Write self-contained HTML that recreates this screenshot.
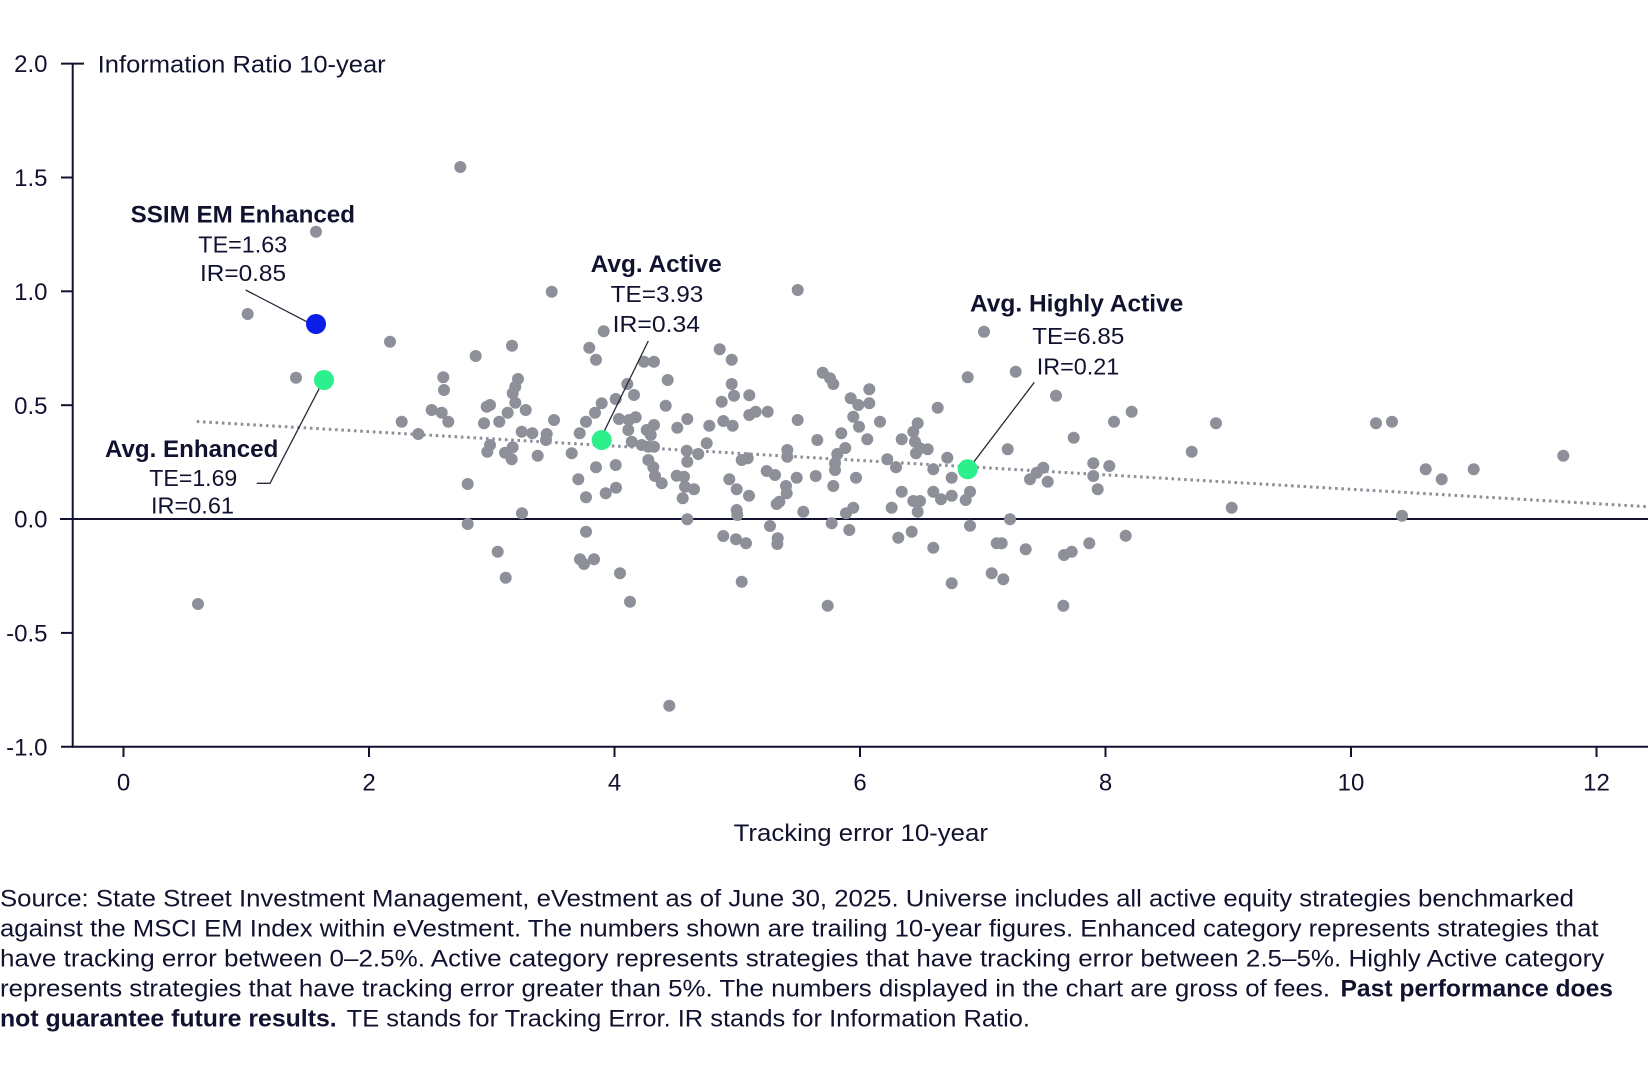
<!DOCTYPE html>
<html>
<head>
<meta charset="utf-8">
<style>
html,body{margin:0;padding:0;background:#fff}
body{width:1648px;height:1080px;overflow:hidden}
svg{display:block}
text{font-family:"Liberation Sans",Arial,sans-serif;fill:#11122f}
.b{font-weight:bold}
</style>
</head>
<body>
<svg width="1648" height="1080" viewBox="0 0 1648 1080" xmlns="http://www.w3.org/2000/svg">
<rect width="1648" height="1080" fill="#fff"/>
<g stroke="#11122f" stroke-width="2" fill="none">
<line x1="72.7" y1="63.6" x2="72.7" y2="747.7"/>
<line x1="61" y1="746.7" x2="1648" y2="746.7"/>
<line x1="60" y1="519" x2="1648" y2="519"/>
<line x1="61" y1="63.6" x2="84" y2="63.6"/>
<line x1="61" y1="177.5" x2="72.7" y2="177.5"/>
<line x1="61" y1="291.3" x2="72.7" y2="291.3"/>
<line x1="61" y1="405.2" x2="72.7" y2="405.2"/>
<line x1="61" y1="632.9" x2="72.7" y2="632.9"/>
<line x1="123.5" y1="746.7" x2="123.5" y2="757"/>
<line x1="369" y1="746.7" x2="369" y2="757"/>
<line x1="614.5" y1="746.7" x2="614.5" y2="757"/>
<line x1="860" y1="746.7" x2="860" y2="757"/>
<line x1="1105.5" y1="746.7" x2="1105.5" y2="757"/>
<line x1="1351" y1="746.7" x2="1351" y2="757"/>
<line x1="1596.5" y1="746.7" x2="1596.5" y2="757"/>
</g>
<g font-size="24" text-anchor="end">
<text x="47.5" y="72.2">2.0</text>
<text x="47.5" y="186.1">1.5</text>
<text x="47.5" y="299.9">1.0</text>
<text x="47.5" y="413.8">0.5</text>
<text x="47.5" y="527.6">0.0</text>
<text x="47.5" y="641.5">-0.5</text>
<text x="47.5" y="755.3">-1.0</text>
</g>
<g font-size="24" text-anchor="middle">
<text x="123.5" y="790.5">0</text>
<text x="369" y="790.5">2</text>
<text x="614.5" y="790.5">4</text>
<text x="860" y="790.5">6</text>
<text x="1105.5" y="790.5">8</text>
<text x="1351" y="790.5">10</text>
<text x="1596.5" y="790.5">12</text>
</g>
<text x="97.7" y="72.5" font-size="24" textLength="288" lengthAdjust="spacingAndGlyphs">Information Ratio 10-year</text>
<text x="733.6" y="841" font-size="24" textLength="254.4" lengthAdjust="spacingAndGlyphs">Tracking error 10-year</text>
<line x1="196.7" y1="421.5" x2="1648" y2="506.7" stroke="#8e9099" stroke-width="3" stroke-dasharray="2.6 3.7"/>
<g fill="#8e9099">
<circle cx="460.3" cy="167" r="6"/><circle cx="316" cy="231.7" r="6"/><circle cx="247.7" cy="314" r="6"/><circle cx="296" cy="377.7" r="6"/><circle cx="198" cy="604" r="6"/>
<circle cx="551.7" cy="291.7" r="6"/><circle cx="797.7" cy="290" r="6"/><circle cx="390" cy="341.7" r="6"/><circle cx="512" cy="345.7" r="6"/><circle cx="475.7" cy="356" r="6"/>
<circle cx="603.7" cy="331.3" r="6"/><circle cx="589.3" cy="347.7" r="6"/><circle cx="596" cy="359.7" r="6"/><circle cx="719.7" cy="349.3" r="6"/><circle cx="731.7" cy="359.7" r="6"/>
<circle cx="644" cy="361.7" r="6"/><circle cx="654" cy="361.7" r="6"/><circle cx="443.3" cy="377.3" r="6"/><circle cx="444" cy="390" r="6"/><circle cx="518" cy="379" r="6"/>
<circle cx="515.3" cy="386.7" r="6"/><circle cx="512.7" cy="393.3" r="6"/><circle cx="515.3" cy="402.7" r="6"/><circle cx="525.7" cy="410" r="6"/><circle cx="667.7" cy="380" r="6"/>
<circle cx="627.3" cy="384" r="6"/><circle cx="634" cy="395" r="6"/><circle cx="615.7" cy="399" r="6"/><circle cx="601.7" cy="403.3" r="6"/><circle cx="595" cy="412.7" r="6"/>
<circle cx="586" cy="421.7" r="6"/><circle cx="579.7" cy="433.3" r="6"/><circle cx="665.7" cy="405.7" r="6"/><circle cx="822.7" cy="372.7" r="6"/><circle cx="830" cy="378.3" r="6"/>
<circle cx="833.3" cy="384" r="6"/><circle cx="731.7" cy="384" r="6"/><circle cx="734" cy="395.7" r="6"/><circle cx="721.7" cy="401.7" r="6"/><circle cx="749.3" cy="395.3" r="6"/>
<circle cx="755.7" cy="411.7" r="6"/><circle cx="749.3" cy="415" r="6"/><circle cx="767.7" cy="411.7" r="6"/><circle cx="869.3" cy="389.3" r="6"/><circle cx="850.7" cy="398.3" r="6"/>
<circle cx="858.3" cy="405" r="6"/><circle cx="869.3" cy="403.3" r="6"/><circle cx="853.3" cy="416.7" r="6"/><circle cx="859" cy="426.7" r="6"/><circle cx="841.3" cy="433.3" r="6"/>
<circle cx="867.3" cy="439.3" r="6"/><circle cx="880" cy="421.7" r="6"/><circle cx="797.7" cy="420" r="6"/><circle cx="817.3" cy="440" r="6"/><circle cx="845.3" cy="448" r="6"/>
<circle cx="837.3" cy="454" r="6"/><circle cx="835" cy="463.3" r="6"/><circle cx="835" cy="470" r="6"/><circle cx="833.3" cy="486" r="6"/><circle cx="856" cy="477.7" r="6"/>
<circle cx="853.3" cy="507.7" r="6"/><circle cx="846" cy="513.3" r="6"/><circle cx="831.7" cy="523.3" r="6"/><circle cx="849.3" cy="530" r="6"/><circle cx="431.7" cy="410" r="6"/>
<circle cx="441.7" cy="412.7" r="6"/><circle cx="448.3" cy="421.7" r="6"/><circle cx="486.7" cy="406.7" r="6"/><circle cx="490" cy="405" r="6"/><circle cx="507.7" cy="412.7" r="6"/>
<circle cx="499.3" cy="421.7" r="6"/><circle cx="484" cy="423.3" r="6"/><circle cx="401.7" cy="421.7" r="6"/><circle cx="418.3" cy="434" r="6"/><circle cx="554" cy="420" r="6"/>
<circle cx="521.7" cy="431.7" r="6"/><circle cx="532.3" cy="433.3" r="6"/><circle cx="546.7" cy="434" r="6"/><circle cx="546" cy="440" r="6"/><circle cx="490" cy="445" r="6"/>
<circle cx="487.3" cy="451.7" r="6"/><circle cx="512.7" cy="447.3" r="6"/><circle cx="505" cy="452.7" r="6"/><circle cx="511.7" cy="459.3" r="6"/><circle cx="537.7" cy="455.7" r="6"/>
<circle cx="571.7" cy="453.3" r="6"/><circle cx="619" cy="419" r="6"/><circle cx="629" cy="420" r="6"/><circle cx="635.7" cy="417.3" r="6"/><circle cx="628.3" cy="430" r="6"/>
<circle cx="631.7" cy="441.7" r="6"/><circle cx="646.7" cy="430" r="6"/><circle cx="654" cy="425" r="6"/><circle cx="650.7" cy="435" r="6"/><circle cx="641.7" cy="445" r="6"/>
<circle cx="648.3" cy="446.7" r="6"/><circle cx="654" cy="446.7" r="6"/><circle cx="648.3" cy="460" r="6"/><circle cx="653.3" cy="467.3" r="6"/><circle cx="655" cy="476" r="6"/>
<circle cx="661.7" cy="483.3" r="6"/><circle cx="596" cy="467.3" r="6"/><circle cx="615.7" cy="465" r="6"/><circle cx="578.3" cy="479.3" r="6"/><circle cx="586" cy="497.3" r="6"/>
<circle cx="605.7" cy="493.3" r="6"/><circle cx="616" cy="487.7" r="6"/><circle cx="677.3" cy="427.7" r="6"/><circle cx="687.3" cy="419" r="6"/><circle cx="709.3" cy="425.7" r="6"/>
<circle cx="723.3" cy="421" r="6"/><circle cx="732.7" cy="425.7" r="6"/><circle cx="706.7" cy="443.3" r="6"/><circle cx="686.7" cy="450.7" r="6"/><circle cx="687.3" cy="461.7" r="6"/>
<circle cx="698.3" cy="454" r="6"/><circle cx="676.7" cy="475.7" r="6"/><circle cx="684" cy="476.7" r="6"/><circle cx="685" cy="486.7" r="6"/><circle cx="694" cy="489.3" r="6"/>
<circle cx="682.7" cy="498.3" r="6"/><circle cx="741.7" cy="460" r="6"/><circle cx="747.7" cy="458.3" r="6"/><circle cx="787.3" cy="450" r="6"/><circle cx="787.3" cy="456.7" r="6"/>
<circle cx="729.3" cy="479.3" r="6"/><circle cx="736.7" cy="489.3" r="6"/><circle cx="749" cy="495.7" r="6"/><circle cx="766.7" cy="471" r="6"/><circle cx="775" cy="475" r="6"/>
<circle cx="786" cy="486" r="6"/><circle cx="786.7" cy="493.3" r="6"/><circle cx="779.3" cy="501.7" r="6"/><circle cx="776.7" cy="504" r="6"/><circle cx="796.7" cy="477.7" r="6"/>
<circle cx="815.7" cy="476" r="6"/><circle cx="736.7" cy="510" r="6"/><circle cx="737.3" cy="515" r="6"/><circle cx="803.3" cy="511.7" r="6"/><circle cx="770" cy="526" r="6"/>
<circle cx="723.3" cy="536" r="6"/><circle cx="736" cy="539.3" r="6"/><circle cx="746" cy="543.3" r="6"/><circle cx="777.7" cy="538.3" r="6"/><circle cx="777.3" cy="544" r="6"/>
<circle cx="687.3" cy="519.3" r="6"/><circle cx="586" cy="531.7" r="6"/><circle cx="522" cy="513.3" r="6"/><circle cx="467.7" cy="484" r="6"/><circle cx="467.7" cy="524" r="6"/>
<circle cx="497.7" cy="551.7" r="6"/><circle cx="505.7" cy="577.7" r="6"/><circle cx="580" cy="559.3" r="6"/><circle cx="584" cy="564" r="6"/><circle cx="594" cy="559.3" r="6"/>
<circle cx="620" cy="573.3" r="6"/><circle cx="630" cy="601.7" r="6"/><circle cx="741.7" cy="581.7" r="6"/><circle cx="827.7" cy="605.7" r="6"/><circle cx="669.3" cy="705.7" r="6"/>
<circle cx="984" cy="331.7" r="6"/><circle cx="967.7" cy="377.3" r="6"/><circle cx="1015.7" cy="371.7" r="6"/><circle cx="1056" cy="395.7" r="6"/><circle cx="1131.7" cy="411.7" r="6"/>
<circle cx="1114" cy="421.7" r="6"/><circle cx="1216" cy="423.3" r="6"/><circle cx="937.7" cy="407.7" r="6"/><circle cx="917.7" cy="423.3" r="6"/><circle cx="913.3" cy="431.7" r="6"/>
<circle cx="915" cy="441.7" r="6"/><circle cx="901.7" cy="439.3" r="6"/><circle cx="920" cy="448.3" r="6"/><circle cx="927.7" cy="449.3" r="6"/><circle cx="916" cy="453.3" r="6"/>
<circle cx="887.3" cy="459.3" r="6"/><circle cx="896" cy="467.3" r="6"/><circle cx="947.3" cy="457.7" r="6"/><circle cx="933.3" cy="469.3" r="6"/><circle cx="951.7" cy="477.7" r="6"/>
<circle cx="1007.7" cy="449.3" r="6"/><circle cx="1073.7" cy="437.7" r="6"/><circle cx="1191.7" cy="451.7" r="6"/><circle cx="1093.3" cy="463.3" r="6"/><circle cx="1109.3" cy="466" r="6"/>
<circle cx="1093.3" cy="476" r="6"/><circle cx="1097.7" cy="489.3" r="6"/><circle cx="1043.3" cy="467.7" r="6"/><circle cx="1036.7" cy="472.7" r="6"/><circle cx="1030" cy="479.3" r="6"/>
<circle cx="1047.7" cy="481.7" r="6"/><circle cx="901.7" cy="491.7" r="6"/><circle cx="913.3" cy="501" r="6"/><circle cx="920" cy="501" r="6"/><circle cx="917.7" cy="511.7" r="6"/>
<circle cx="891.7" cy="507.7" r="6"/><circle cx="933.3" cy="491.7" r="6"/><circle cx="941" cy="499.3" r="6"/><circle cx="951.7" cy="495.7" r="6"/><circle cx="965.7" cy="500" r="6"/>
<circle cx="970" cy="491.7" r="6"/><circle cx="1231.7" cy="507.7" r="6"/><circle cx="1010" cy="519.3" r="6"/><circle cx="970" cy="525.7" r="6"/><circle cx="911.7" cy="531.7" r="6"/>
<circle cx="898.3" cy="537.7" r="6"/><circle cx="933.3" cy="547.7" r="6"/><circle cx="996.7" cy="543.3" r="6"/><circle cx="1001.7" cy="543.3" r="6"/><circle cx="1025.7" cy="549.3" r="6"/>
<circle cx="1064" cy="555" r="6"/><circle cx="1071.7" cy="551.7" r="6"/><circle cx="1089.3" cy="543.3" r="6"/><circle cx="1125.7" cy="535.7" r="6"/><circle cx="951.7" cy="583.3" r="6"/>
<circle cx="991.7" cy="573.3" r="6"/><circle cx="1003.3" cy="579.3" r="6"/><circle cx="1063.3" cy="605.7" r="6"/><circle cx="1376" cy="423.3" r="6"/><circle cx="1392" cy="421.7" r="6"/>
<circle cx="1425.7" cy="469.3" r="6"/><circle cx="1441.7" cy="479.3" r="6"/><circle cx="1473.7" cy="469.3" r="6"/><circle cx="1563.3" cy="455.7" r="6"/><circle cx="1402" cy="515.7" r="6"/>
</g>
<g stroke="#2a2b3a" stroke-width="1.3" fill="none">
<line x1="245.7" y1="290" x2="306.7" y2="321.7"/>
<polyline points="256.7,483.3 270,483.3 319.3,388.3"/>
<line x1="648.3" y1="341" x2="604" y2="431.7"/>
<line x1="1034.3" y1="382.3" x2="974" y2="461.7"/>
</g>
<circle cx="316" cy="324" r="10" fill="#0b1de6"/>
<circle cx="324" cy="380" r="10" fill="#2cf08c"/>
<circle cx="601.7" cy="440" r="10" fill="#2cf08c"/>
<circle cx="967.7" cy="469.3" r="10" fill="#2cf08c"/>
<text class="b" x="130.7" y="222.7" font-size="24" textLength="224.3" lengthAdjust="spacingAndGlyphs">SSIM EM Enhanced</text>
<text x="198.3" y="252.5" font-size="23.5" textLength="89" lengthAdjust="spacingAndGlyphs">TE=1.63</text>
<text x="200" y="280.8" font-size="23.5" textLength="86" lengthAdjust="spacingAndGlyphs">IR=0.85</text>
<text class="b" x="105" y="457" font-size="24" textLength="173.3" lengthAdjust="spacingAndGlyphs">Avg. Enhanced</text>
<text x="149.3" y="486.2" font-size="23.5" textLength="88" lengthAdjust="spacingAndGlyphs">TE=1.69</text>
<text x="151" y="513.5" font-size="23.5" textLength="83" lengthAdjust="spacingAndGlyphs">IR=0.61</text>
<text class="b" x="590.7" y="272" font-size="24" textLength="131" lengthAdjust="spacingAndGlyphs">Avg. Active</text>
<text x="610.7" y="301.8" font-size="23.5" textLength="92.6" lengthAdjust="spacingAndGlyphs">TE=3.93</text>
<text x="612.7" y="331.8" font-size="23.5" textLength="87.3" lengthAdjust="spacingAndGlyphs">IR=0.34</text>
<text class="b" x="970" y="311.7" font-size="24" textLength="213.3" lengthAdjust="spacingAndGlyphs">Avg. Highly Active</text>
<text x="1032.3" y="344.2" font-size="23.5" textLength="92" lengthAdjust="spacingAndGlyphs">TE=6.85</text>
<text x="1036.7" y="374.5" font-size="23.5" textLength="82.6" lengthAdjust="spacingAndGlyphs">IR=0.21</text>
<g font-size="24">
<text x="0" y="906.7" textLength="1574" lengthAdjust="spacingAndGlyphs">Source: State Street Investment Management, eVestment as of June 30, 2025. Universe includes all active equity strategies benchmarked</text>
<text x="0" y="936.7" textLength="1598.5" lengthAdjust="spacingAndGlyphs">against the MSCI EM Index within eVestment. The numbers shown are trailing 10-year figures. Enhanced category represents strategies that</text>
<text x="0" y="966.7" textLength="1604.3" lengthAdjust="spacingAndGlyphs">have tracking error between 0–2.5%. Active category represents strategies that have tracking error between 2.5–5%. Highly Active category</text>
<text x="0" y="996.7" textLength="1330" lengthAdjust="spacingAndGlyphs">represents strategies that have tracking error greater than 5%. The numbers displayed in the chart are gross of fees.</text>
<text class="b" x="1340.5" y="996.7" textLength="272.5" lengthAdjust="spacingAndGlyphs">Past performance does</text>
<text class="b" x="0" y="1026.7" textLength="336.7" lengthAdjust="spacingAndGlyphs">not guarantee future results.</text>
<text x="346.7" y="1026.7" textLength="683.3" lengthAdjust="spacingAndGlyphs">TE stands for Tracking Error. IR stands for Information Ratio.</text>
</g>
</svg>
</body>
</html>
